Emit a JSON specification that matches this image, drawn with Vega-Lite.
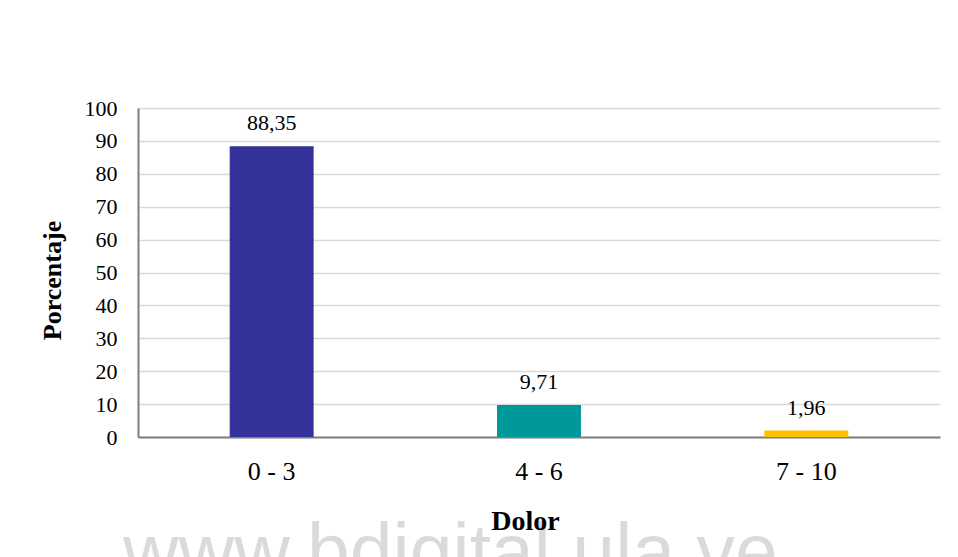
{
  "$schema": "https://vega.github.io/schema/vega-lite/v6.json",
  "width": 802,
  "height": 329,
  "autosize": "none",
  "padding": {"left": 138, "top": 108, "right": 18, "bottom": 120},
  "background": "white",
  "title": {
    "text": "www.bdigital.ula.ve",
    "orient": "bottom",
    "anchor": "start",
    "frame": "group",
    "dx": -15,
    "offset": 43,
    "baseline": "alphabetic",
    "font": "Liberation Sans",
    "fontSize": 77,
    "fontWeight": "normal",
    "color": "rgba(0, 0, 0, 0.145)"
  },
  "data": {
    "values": [
      {"Dolor": "0 - 3", "Porcentaje": 88.35},
      {"Dolor": "4 - 6", "Porcentaje": 9.71},
      {"Dolor": "7 - 10", "Porcentaje": 1.96}
    ]
  },
  "encoding": {
    "x": {
      "field": "Dolor",
      "type": "nominal",
      "sort": null,
      "scale": {"paddingInner": 0, "paddingOuter": 0},
      "axis": {
        "title": "Dolor",
        "labelAngle": 0,
        "ticks": false,
        "labelPadding": 21,
        "labelFont": "Liberation Serif",
        "labelFontSize": 26,
        "labelColor": "#000000",
        "titleFont": "Liberation Serif",
        "titleFontSize": 28,
        "titleFontWeight": "bold",
        "titleColor": "#000000",
        "titlePadding": 23,
        "titleX": 387,
        "domainColor": "#7f7f7f",
        "domainWidth": 2,
        "grid": false
      }
    },
    "y": {
      "field": "Porcentaje",
      "type": "quantitative",
      "scale": {"domain": [0, 100], "nice": false},
      "axis": {
        "title": "Porcentaje",
        "values": [0, 10, 20, 30, 40, 50, 60, 70, 80, 90, 100],
        "ticks": false,
        "labelPadding": 21,
        "labelFont": "Liberation Serif",
        "labelFontSize": 22,
        "labelColor": "#000000",
        "titleFont": "Liberation Serif",
        "titleFontSize": 26,
        "titleFontWeight": "bold",
        "titleColor": "#000000",
        "titlePadding": 19,
        "titleY": 172,
        "domainColor": "#7f7f7f",
        "domainWidth": 2,
        "gridColor": "#d9d9d9",
        "gridWidth": 1.5
      }
    }
  },
  "layer": [
    {
      "mark": {"type": "bar", "width": {"band": 0.314}},
      "encoding": {
        "color": {
          "field": "Dolor",
          "type": "nominal",
          "sort": null,
          "scale": {"range": ["#333399", "#009999", "#ffc000"]},
          "legend": null
        }
      }
    },
    {
      "mark": {
        "type": "text",
        "baseline": "alphabetic",
        "dy": -16,
        "font": "Liberation Serif",
        "fontSize": 22,
        "color": "#000000"
      },
      "encoding": {
        "text": {"field": "Porcentaje", "type": "quantitative", "format": ".2f"}
      }
    }
  ],
  "config": {
    "view": {"stroke": null},
    "locale": {
      "number": {
        "decimal": ",",
        "thousands": ".",
        "grouping": [3],
        "currency": ["", " €"]
      }
    }
  }
}
